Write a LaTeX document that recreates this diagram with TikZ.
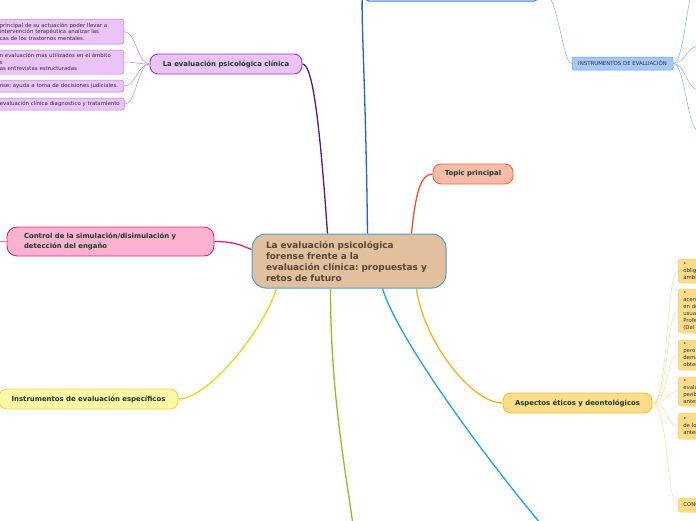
\documentclass[tikz,border=0pt]{standalone}
\usepackage{fontspec}
\setmainfont{DejaVu Sans}
\usepackage{xcolor}
\usepackage{tikz}
\frenchspacing

\definecolor{rootfill}{HTML}{E2C09E}
\definecolor{rootline}{HTML}{4B9CD3}
\definecolor{roottext}{HTML}{574634}
\definecolor{topictext}{HTML}{143A2A}
\definecolor{leaftext}{HTML}{333333}
\definecolor{clinfill}{HTML}{EBC3F8}
\definecolor{clinline}{HTML}{8E3FB3}
\definecolor{clinwire}{HTML}{5A1778}
\definecolor{clinleafline}{HTML}{B27ECC}
\definecolor{clintwig}{HTML}{B98DCD}
\definecolor{evalline}{HTML}{3D7FDD}
\definecolor{evalfill}{HTML}{D4E5FB}
\definecolor{evalwire}{HTML}{1D63D6}
\definecolor{instrfill}{HTML}{A6C8F8}
\definecolor{instrline}{HTML}{5E9DEB}
\definecolor{instrtwig}{HTML}{85B3F0}
\definecolor{topfill}{HTML}{F7BCA7}
\definecolor{topline}{HTML}{F26A3B}
\definecolor{topwire}{HTML}{F4511E}
\definecolor{ctrlfill}{HTML}{FFB1D1}
\definecolor{ctrlline}{HTML}{E5267A}
\definecolor{ctrlwire}{HTML}{EE1E72}
\definecolor{specfill}{HTML}{FFF6A6}
\definecolor{specline}{HTML}{F0D840}
\definecolor{specwire}{HTML}{EFD31D}
\definecolor{greenwire}{HTML}{8DC21E}
\definecolor{cyanwire}{HTML}{1AA4EA}
\definecolor{aspfill}{HTML}{FFDC8A}
\definecolor{aspline}{HTML}{F6BD2C}
\definecolor{aspwire}{HTML}{F8B415}
\definecolor{aspleafline}{HTML}{F7CB5C}
\definecolor{asptwig}{HTML}{FDDC97}

\begin{document}
\begin{tikzpicture}[x=1pt, y=-1pt,
  topic/.style={draw, line width=0.9pt, rounded corners=8pt, inner sep=0pt,
    text=topictext, font=\bfseries\fontsize{6.9}{9.5}\selectfont},
  leaf/.style={draw, line width=0.5pt, rounded corners=2.5pt, inner ysep=0pt, inner xsep=3pt,
    align=left, text=leaftext, font=\fontsize{5.4}{6.6}\selectfont},
  aspleaf/.style={leaf, fill=aspfill, draw=aspleafline, anchor=west, text width=40pt,
    inner xsep=5pt, font=\fontsize{5.4}{7}\selectfont},
  wire/.style={line width=1.3pt},
  twig/.style={line width=0.5pt}]

  \useasboundingbox (0,0) rectangle (696,520);
  \clip (0,0) rectangle (696,520);

  % ===== Central topic =====
  \node[draw=rootline, fill=rootfill, line width=1pt, rounded corners=14pt,
        minimum width=194pt, minimum height=54pt, text width=166pt, inner xsep=14pt,
        align=left, text=roottext, font=\bfseries\fontsize{8.9}{11}\selectfont]
    (root) at (349,261) {La evaluación psicológica\\forense frente a la\\evaluación clínica: propuestas y\\retos de futuro};

  % ===== La evaluación psicológica clínica =====
  \node[topic, fill=clinfill, draw=clinline, minimum width=152pt, minimum height=20pt]
    (clin) at (226,64) {La evaluación psicológica clínica};
  \node[leaf, fill=clinfill, draw=clinleafline, text width=121pt, minimum height=25pt, anchor=east]
    (clinA) at (124,31.5) {principal de su actuación poder llevar a\\intervención terapéutica analizar las\\cas de los trastornos mentales.};
  \node[leaf, fill=clinfill, draw=clinleafline, text width=121pt, minimum height=24pt, anchor=east]
    (clinB) at (124,62) {n evaluación más utilizados en el ámbito\\s\\as entrevistas estructuradas};
  \node[leaf, fill=clinfill, draw=clinleafline, text width=121pt, minimum height=12pt, anchor=east]
    (clinC) at (124,86) {nse; ayuda a toma de decisiones judiciales.};
  \node[leaf, fill=clinfill, draw=clinleafline, text width=121.5pt, minimum height=12pt, anchor=east]
    (clinD) at (124.5,104) {evaluación clínica diagnostico y tratamiento};

  % ===== top blue branch =====
  \node[draw=evalline, fill=evalfill, line width=1pt, rounded corners=4pt,
        minimum width=173pt, minimum height=28pt] (evaltop) at (451.5,-13) {};
  \node[leaf, fill=instrfill, draw=instrline, rounded corners=2pt, align=center,
        minimum width=101pt, minimum height=13pt] (instr) at (622.5,63.5) {INSTRUMENTOS DE EVALUACIÓN};
  \coordinate (instrA) at (699,-22);
  \coordinate (instrB) at (699,46);
  \coordinate (instrC) at (699,90);
  \coordinate (instrD) at (699,131);

  % ===== other main topics =====
  \node[topic, fill=topfill, draw=topline, minimum width=80pt, minimum height=20pt]
    (topic) at (473,174) {Topic principal};
  \node[topic, fill=ctrlfill, draw=ctrlline, rounded corners=10pt, minimum width=207pt,
        minimum height=29pt, text width=173pt, inner xsep=17pt, align=left]
    (ctrl) at (110.5,241.5) {Control de la simulación/disimulación y\\detección del engaño};
  \coordinate (ctrlOut) at (-8,242);
  \node[topic, fill=specfill, draw=specline, minimum width=179pt, minimum height=20pt]
    (spec) at (88.5,399) {Instrumentos de evaluación específicos};
  \coordinate (greenEnd) at (356,550);
  \coordinate (cyanEnd) at (556,542);

  % ===== Aspectos éticos y deontológicos =====
  \node[topic, fill=aspfill, draw=aspline, minimum width=149pt, minimum height=20pt]
    (asp) at (577.5,403) {Aspectos éticos y deontológicos};
  \node[aspleaf, minimum height=24pt] (aspA) at (678,271) {•\\oblig\\ámbi};
  \node[aspleaf, minimum height=44pt] (aspB) at (678,311) {•\\acent\\en do\\usua\\Profe\\(Del};
  \node[aspleaf, minimum height=30pt] (aspC) at (678,355) {•\\pero\\dema\\obten};
  \node[aspleaf, minimum height=29pt] (aspD) at (678,391.5) {•\\evalu\\perib\\antes};
  \node[aspleaf, minimum height=26pt] (aspE) at (678,426) {•\\de lo\\anter};
  \node[aspleaf, minimum height=14pt] (aspF) at (678,505) {CONC};

  % ===== main connectors =====
  \draw[wire, clinwire] ([xshift=76pt]root.north west) .. controls +(-8,-114) and +(10,0) .. (clin.east);
  \draw[wire, evalwire] ([xshift=116pt]root.north west) .. controls +(-2,-174) and +(-6,0) .. (evaltop.west);
  \draw[wire, topwire] ([xshift=160pt]root.north west) .. controls +(4,-40) and +(-12,0) .. (topic.west);
  \draw[wire, ctrlwire] ([yshift=-16pt]root.north west) .. controls +(-10,-4) and +(20,0) .. (ctrl.east);
  \draw[wire, specwire] ([xshift=25pt]root.south west) .. controls +(-12,40) and +(30,0) .. (spec.east);
  \draw[wire, greenwire] ([xshift=79pt]root.south west) .. controls +(0,120) and +(-6,-60) .. (greenEnd);
  \draw[wire, cyanwire] ([xshift=131pt]root.south west) .. controls +(12,42) and +(-85,-100) .. (cyanEnd);
  \draw[wire, aspwire] ([xshift=165pt]root.south west) .. controls +(6,50) and +(-32,0) .. (asp.west);

  % ===== sub connectors =====
  \draw[twig, clintwig] (clin.west) .. controls +(-12,0) and +(12,0) .. (clinA.east);
  \draw[twig, clintwig] (clin.west) .. controls +(-12,0) and +(12,0) .. (clinB.east);
  \draw[twig, clintwig] (clin.west) .. controls +(-12,0) and +(12,0) .. (clinC.east);
  \draw[twig, clintwig] (clin.west) .. controls +(-12,0) and +(12,0) .. (clinD.east);
  \draw[twig, instrtwig] (evaltop.east) .. controls +(20,0) and +(-10,0) .. (instr.west);
  \draw[twig, instrtwig] (instr.east) .. controls +(12,0) and +(-12,0) .. (instrA);
  \draw[twig, instrtwig] (instr.east) .. controls +(12,0) and +(-12,0) .. (instrB);
  \draw[twig, instrtwig] (instr.east) .. controls +(12,0) and +(-12,0) .. (instrC);
  \draw[twig, instrtwig] (instr.east) .. controls +(12,0) and +(-12,0) .. (instrD);
  \draw[twig, ctrlwire] (ctrl.west) -- (ctrlOut);
  \draw[twig, asptwig] (asp.east) .. controls +(16,0) and +(-12,0) .. (aspA.west);
  \draw[twig, asptwig] (asp.east) .. controls +(16,0) and +(-12,0) .. (aspB.west);
  \draw[twig, asptwig] (asp.east) .. controls +(16,0) and +(-12,0) .. (aspC.west);
  \draw[twig, asptwig] (asp.east) .. controls +(16,0) and +(-12,0) .. (aspD.west);
  \draw[twig, asptwig] (asp.east) .. controls +(16,0) and +(-12,0) .. (aspE.west);
  \draw[twig, asptwig] (asp.east) .. controls +(16,0) and +(-12,0) .. (aspF.west);
\end{tikzpicture}
\end{document}
